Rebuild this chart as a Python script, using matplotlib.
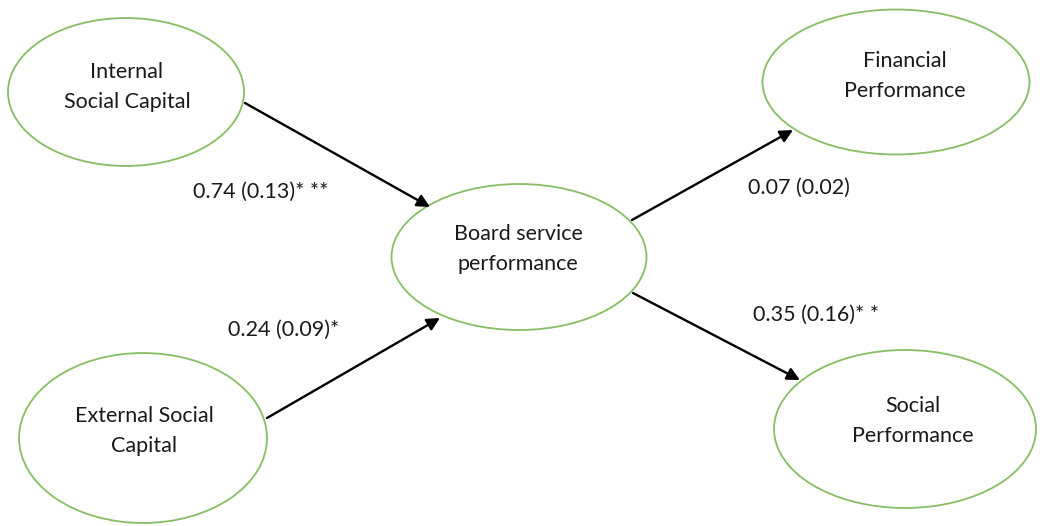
import matplotlib
matplotlib.use("Agg")
import matplotlib.pyplot as plt
from matplotlib.patches import Ellipse, FancyArrowPatch

# ---- data ----
node_labels = ["Internal\nSocial Capital", "External Social\nCapital",
               "Board service\nperformance", "Financial\nPerformance",
               "Social\nPerformance"]
path_from = [0, 1, 2, 2]
path_to = [2, 2, 3, 4]
path_coef = [0.74, 0.24, 0.07, 0.35]
path_se = [0.13, 0.09, 0.02, 0.16]
path_stars = ["* **", "*", "", "* *"]

# ---- layout (pixels) ----
node_xy = [(126, 92), (143, 438), (519, 257), (896, 82), (905, 429)]
node_wh = [(236, 148), (248, 170), (255, 146), (267, 145), (262, 158)]
text_xy = [(127, 87), (144, 431), (518, 249), (905, 76), (913, 421)]
arrow_start = [(245, 103), (267, 418), (632, 220), (633, 293)]
arrow_end = [(430, 207), (440, 318), (793, 130), (800, 380)]
label_xy = [(193, 192), (228, 330), (748, 188), (753, 315)]

FONT = ["Lato", "DejaVu Sans"]
fig = plt.figure(figsize=(10.4, 5.26), dpi=100)
ax = fig.add_axes([0, 0, 1, 1])
ax.set_xlim(0, 1040)
ax.set_ylim(526, 0)
ax.axis("off")

for lab, (x, y), (w, h), (tx, ty) in zip(node_labels, node_xy, node_wh, text_xy):
    ax.add_patch(Ellipse((x, y), w, h, facecolor="white",
                         edgecolor="#86bf63", lw=1.3))
    ax.text(tx, ty, lab, ha="center", va="center", fontsize=15.5,
            family=FONT, color="#1a1a1a", linespacing=1.65)

for s, e, c, se, st, (lx, ly) in zip(arrow_start, arrow_end, path_coef,
                                      path_se, path_stars, label_xy):
    ax.add_patch(FancyArrowPatch(s, e, arrowstyle="-|>", mutation_scale=19,
                                 lw=1.7, color="black", shrinkA=0, shrinkB=0))
    txt = f"{c:.2f} ({se:.2f})" + st
    ax.text(lx, ly, txt, ha="left", va="center", fontsize=15.5,
            family=FONT, color="#1a1a1a")

fig.savefig("out.png", dpi=100)
